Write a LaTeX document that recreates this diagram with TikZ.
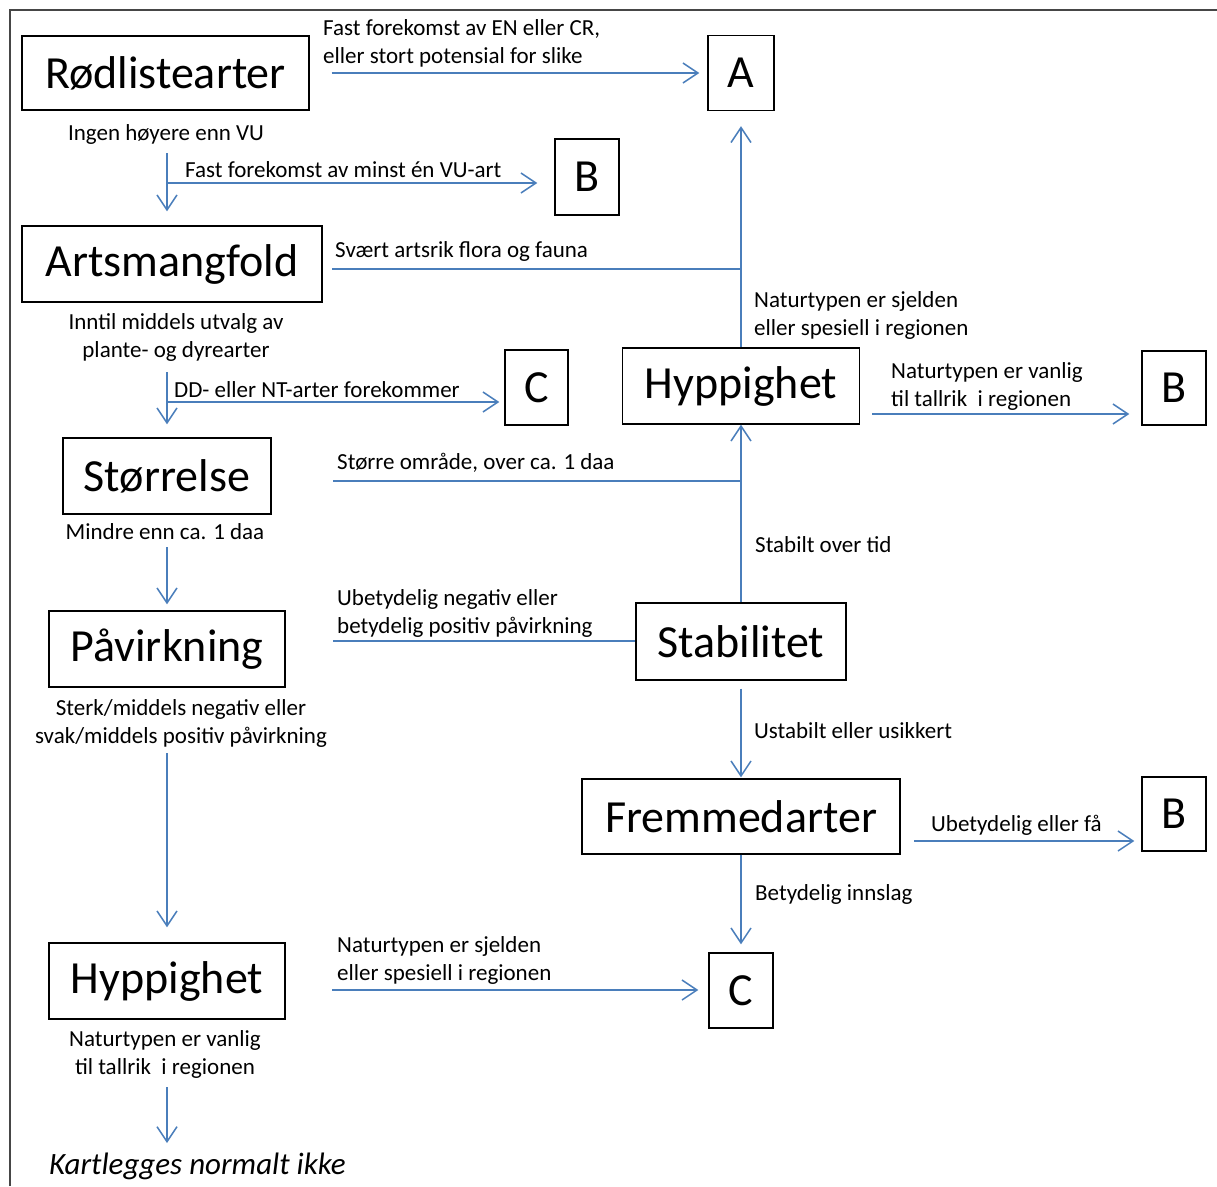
\documentclass[tikz,border=0pt]{standalone}
\usepackage{fontspec}
\setmainfont{Carlito}
\usetikzlibrary{arrows.meta,calc}
\definecolor{lineblue}{RGB}{74,126,187}
\definecolor{framegray}{RGB}{70,70,70}
\newcommand{\ltab}[1]{\begin{tabular}[t]{@{}l@{}}#1\end{tabular}}
\newcommand{\ctab}[1]{\begin{tabular}[t]{@{}c@{}}#1\end{tabular}}
\tikzset{
  box/.style={draw=black, line width=1.4pt, inner sep=0pt, font=\fontsize{46}{50}\selectfont},
  lab/.style={inner sep=0pt, font=\fontsize{23}{28}\selectfont, text=black},
  conn/.style={draw=lineblue, line width=1.5pt},
  arr/.style={conn, -{Straight Barb[length=15pt,width=20pt,line width=1.5pt]}}
}
\begin{document}
\begin{tikzpicture}[x=1pt,y=-1pt]
\useasboundingbox (0,0) rectangle (1217,1186);
\draw[framegray, line width=2.8pt] (10,1186) -- (10,10) -- (1217,10);

% boxes
\node[box, minimum width=287, minimum height=74] (rod) at (165.5,73) {Rødlistearter};
\node[box, minimum width=66, minimum height=75] (A) at (741,73) {A};
\node[box, minimum width=64, minimum height=76] (B1) at (587,177) {B};
\node[box, minimum width=300, minimum height=76] (art) at (172,264) {Artsmangfold};
\node[box, minimum width=63, minimum height=75] (C1) at (536.5,387.5) {C};
\node[box, minimum width=237, minimum height=76] (hypR) at (741,386) {Hyppighet};
\node[box, minimum width=64, minimum height=74] (B2) at (1174,388) {B};
\node[box, minimum width=208, minimum height=76] (stor) at (167,476) {Størrelse};
\node[box, minimum width=236, minimum height=76] (pav) at (167,649) {Påvirkning};
\node[box, minimum width=210, minimum height=77] (stab) at (741,641.5) {Stabilitet};
\node[box, minimum width=318, minimum height=75] (frem) at (741,816.5) {Fremmedarter};
\node[box, minimum width=64, minimum height=74] (B3) at (1174,814) {B};
\node[box, minimum width=236, minimum height=76] (hypL) at (167,981) {Hyppighet};
\node[box, minimum width=64, minimum height=75] (C2) at (741,990.5) {C};

% labels
\node[lab, anchor=base west] (l1) at (323,35) {\ltab{Fast forekomst av EN eller CR,\\ eller stort potensial for slike}};
\node[lab, anchor=base] (l2) at (166,140) {Ingen høyere enn VU};
\node[lab, anchor=base west] (l3) at (185,177) {Fast forekomst av minst én VU-art};
\node[lab, anchor=base west] (l4) at (335,257) {Svært artsrik flora og fauna};
\node[lab, anchor=base west] (l5) at (754,307) {\ltab{Naturtypen er sjelden\\ eller spesiell i regionen}};
\node[lab, anchor=base] (l6) at (176,329) {\ctab{Inntil middels utvalg av\\ plante- og dyrearter}};
\node[lab, anchor=base west] (l7) at (174,397) {DD- eller NT-arter forekommer};
\node[lab, anchor=base west] (l8) at (891,378) {\ltab{Naturtypen er vanlig\\ til tallrik\ \ i regionen}};
\node[lab, anchor=base west] (l9) at (337,469) {Større område, over ca. 1 daa};
\node[lab, anchor=base] (l10) at (165,539) {Mindre enn ca. 1 daa};
\node[lab, anchor=base west] (l11) at (755,552) {Stabilt over tid};
\node[lab, anchor=base west] (l12) at (337,605) {\ltab{Ubetydelig negativ eller\\ betydelig positiv påvirkning}};
\node[lab, anchor=base] (l13) at (181,715) {\ctab{Sterk/middels negativ eller\\ svak/middels positiv påvirkning}};
\node[lab, anchor=base west] (l14) at (754,738) {Ustabilt eller usikkert};
\node[lab, anchor=base west] (l15) at (931,831) {Ubetydelig eller få};
\node[lab, anchor=base west] (l16) at (755,900) {Betydelig innslag};
\node[lab, anchor=base west] (l17) at (337,952) {\ltab{Naturtypen er sjelden\\ eller spesiell i regionen}};
\node[lab, anchor=base] (l18) at (165,1046) {\ctab{Naturtypen er vanlig\\ til tallrik\ \ i regionen}};
\node[inner sep=0pt, anchor=base west, font=\fontsize{31}{34}\selectfont\itshape] (kart) at (49,1174) {Kartlegges normalt ikke};

% connector free ends
\coordinate (p2) at (167,153);
\coordinate (p3) at (167,183);
\coordinate (p4) at (332,269);
\coordinate (p5) at (167,372);
\coordinate (p6) at (167,402);
\coordinate (p7) at (872,414);
\coordinate (p8) at (333,481);
\coordinate (p10) at (167,547);
\coordinate (p11) at (333,641);
\coordinate (p12) at (167,753);
\coordinate (p14) at (914,841);
\coordinate (p16) at (332,990);
\coordinate (p17) at (167,1087);
\coordinate (e17) at (167,1143);

% connectors
\draw[arr, shorten <=22pt, shorten >=8pt] (rod.east) -- (A.west);
\draw[arr, shorten >=14pt] (p2) -- (p2 |- art.north);
\draw[arr, shorten >=17pt] (p3) -- (p3 -| B1.west);
\draw[conn] (p4) -- (p4 -| A.south);
\draw[arr, shorten >=15pt] (hypR.north) -- (A.south);
\draw[arr, shorten >=13pt] (p5) -- (p5 |- stor.north);
\draw[arr, shorten >=5pt] (p6) -- (p6 -| C1.west);
\draw[arr, shorten >=12pt] (p7) -- (p7 -| B2.west);
\draw[conn] (p8) -- (p8 -| hypR.south);
\draw[arr] (stab.north) -- (hypR.south);
\draw[arr, shorten >=6pt] (p10) -- (p10 |- pav.north);
\draw[conn] (p11) -- (p11 -| stab.west);
\draw[arr, shorten >=15pt] (p12) -- (p12 |- hypL.north);
\draw[arr, shorten <=8pt, shorten >=1pt] (stab.south) -- (frem.north);
\draw[arr, shorten >=7pt] (p14) -- (p14 -| B3.west);
\draw[arr, shorten >=8pt] (frem.south) -- (C2.north);
\draw[arr, shorten >=10pt] (p16) -- (p16 -| C2.west);
\draw[arr] (p17) -- (e17);
\end{tikzpicture}
\end{document}
